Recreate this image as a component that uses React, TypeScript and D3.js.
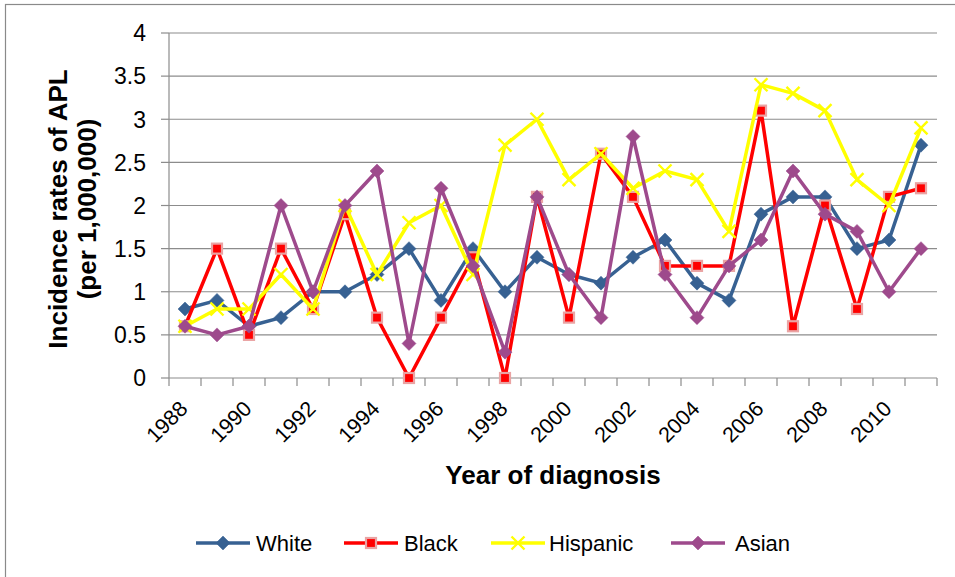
import React from "react";
import * as d3 from "d3";

const years = [1988, 1989, 1990, 1991, 1992, 1993, 1994, 1995, 1996, 1997, 1998, 1999, 2000, 2001, 2002, 2003, 2004, 2005, 2006, 2007, 2008, 2009, 2010, 2011];
const white = [0.8, 0.9, 0.6, 0.7, 1.0, 1.0, 1.2, 1.5, 0.9, 1.5, 1.0, 1.4, 1.2, 1.1, 1.4, 1.6, 1.1, 0.9, 1.9, 2.1, 2.1, 1.5, 1.6, 2.7];
const black = [0.6, 1.5, 0.5, 1.5, 0.8, 1.9, 0.7, 0.0, 0.7, 1.4, 0.0, 2.1, 0.7, 2.6, 2.1, 1.3, 1.3, 1.3, 3.1, 0.6, 2.0, 0.8, 2.1, 2.2];
const hispanic = [0.6, 0.8, 0.8, 1.2, 0.8, 2.0, 1.2, 1.8, 2.0, 1.2, 2.7, 3.0, 2.3, 2.6, 2.2, 2.4, 2.3, 1.7, 3.4, 3.3, 3.1, 2.3, 2.0, 2.9];
const asian = [0.6, 0.5, 0.6, 2.0, 1.0, 2.0, 2.4, 0.4, 2.2, 1.3, 0.3, 2.1, 1.2, 0.7, 2.8, 1.2, 0.7, 1.3, 1.6, 2.4, 1.9, 1.7, 1.0, 1.5];
const yTicks = [0, 0.5, 1, 1.5, 2, 2.5, 3, 3.5, 4];
const xTickLabels = [1988, 1990, 1992, 1994, 1996, 1998, 2000, 2002, 2004, 2006, 2008, 2010];
const seriesNames = ["White", "Black", "Hispanic", "Asian"];

const colors: Record<string, string> = {
  White: "#376192",
  Black: "#FF0000",
  Hispanic: "#FFFF00",
  Asian: "#9E4A8C",
};
const markers: Record<string, string> = {
  White: "diamond",
  Black: "square",
  Hispanic: "x",
  Asian: "diamond",
};

const W = 955;
const H = 577;
const left = 169;
const right = 937;
const top = 33;
const bottom = 378;
const font = "'Liberation Sans', Arial, sans-serif";
const gridColor = "#8c8c8c";

function Marker({ type, x, y, color }: { type: string; x: number; y: number; color: string }) {
  if (type === "diamond") {
    const r = 7;
    return <path d={`M${x},${y - r}L${x + r},${y}L${x},${y + r}L${x - r},${y}Z`} fill={color} stroke={color} strokeWidth={0.5} />;
  }
  if (type === "square") {
    const s = 10;
    return <rect x={x - s / 2} y={y - s / 2} width={s} height={s} fill={color} stroke="#eaa3a3" strokeWidth={2.2} />;
  }
  const r = 6.5;
  return (
    <path d={`M${x - r},${y - r}L${x + r},${y + r}M${x - r},${y + r}L${x + r},${y - r}`} stroke={color} strokeWidth={2.4} fill="none" />
  );
}

export default function App() {
  const x = d3.scaleBand<number>().domain(years).range([left, right]).padding(0);
  const y = d3.scaleLinear().domain([0, 4]).range([bottom, top]);
  const cx = (yr: number) => (x(yr) as number) + x.bandwidth() / 2;
  const data: Record<string, number[]> = { White: white, Black: black, Hispanic: hispanic, Asian: asian };
  const line = d3
    .line<number>()
    .x((_, i) => cx(years[i]))
    .y((d) => y(d));

  const boundaries = years.map((yr) => x(yr) as number).concat([right]);

  const legendLineX = [196, 344, 491, 671];
  const legendTextX = [256, 404, 549, 735];
  const legendY = 543;

  return (
    <svg width={W} height={H} style={{ position: "fixed", left: 0, top: 0, background: "#fff" }} fontFamily={font}>
      <rect x={0} y={0} width={W} height={H} fill="#fff" />
      <rect x={5.5} y={4.5} width={1200} height={1200} fill="none" stroke="#8a8a8a" strokeWidth={1.2} />

      {yTicks.filter((t) => t > 0).map((t) => (
        <line key={t} x1={left} x2={right} y1={y(t)} y2={y(t)} stroke={gridColor} strokeWidth={1.2} />
      ))}
      <line x1={left} x2={left} y1={top} y2={bottom} stroke={gridColor} strokeWidth={1.2} />
      {yTicks.map((t) => (
        <g key={t}>
          <line x1={left - 8} x2={left} y1={y(t)} y2={y(t)} stroke={gridColor} strokeWidth={1.2} />
          <text x={146} y={y(t)} dy="0.36em" textAnchor="end" fontSize={23} fill="#000">
            {d3.format("")(t)}
          </text>
        </g>
      ))}
      <line x1={left} x2={right} y1={bottom} y2={bottom} stroke={gridColor} strokeWidth={1.2} />
      {boundaries.map((bx, i) => (
        <line key={i} x1={bx} x2={bx} y1={bottom} y2={bottom + 8} stroke={gridColor} strokeWidth={1.2} />
      ))}
      {xTickLabels.map((yr) => (
        <text key={yr} transform={`translate(${cx(yr) + 4},${bottom + 32}) rotate(-45)`} textAnchor="end" fontSize={21.5} fill="#000">
          {yr}
        </text>
      ))}

      <text x={553} y={475} dy="0.36em" textAnchor="middle" fontSize={26} fontWeight="bold" fill="#000">
        Year of diagnosis
      </text>
      <g transform="translate(67,209) rotate(-90)">
        <text x={0} y={0} textAnchor="middle" fontSize={26} fontWeight="bold" fill="#000">
          Incidence rates of APL
        </text>
        <text x={0} y={29} textAnchor="middle" fontSize={26} fontWeight="bold" fill="#000">
          (per 1,000,000)
        </text>
      </g>

      {seriesNames.map((name) => (
        <g key={name}>
          <path d={line(data[name]) || ""} fill="none" stroke={colors[name]} strokeWidth={3.5} strokeLinejoin="round" />
          {data[name].map((v, i) => (
            <Marker key={i} type={markers[name]} x={cx(years[i])} y={y(v)} color={colors[name]} />
          ))}
        </g>
      ))}

      {seriesNames.map((name, i) => (
        <g key={name}>
          <line x1={legendLineX[i]} x2={legendLineX[i] + 54} y1={legendY} y2={legendY} stroke={colors[name]} strokeWidth={3.5} />
          <Marker type={markers[name]} x={legendLineX[i] + 27} y={legendY} color={colors[name]} />
          <text x={legendTextX[i]} y={legendY} dy="0.36em" fontSize={22} fill="#000">
            {name}
          </text>
        </g>
      ))}
    </svg>
  );
}
